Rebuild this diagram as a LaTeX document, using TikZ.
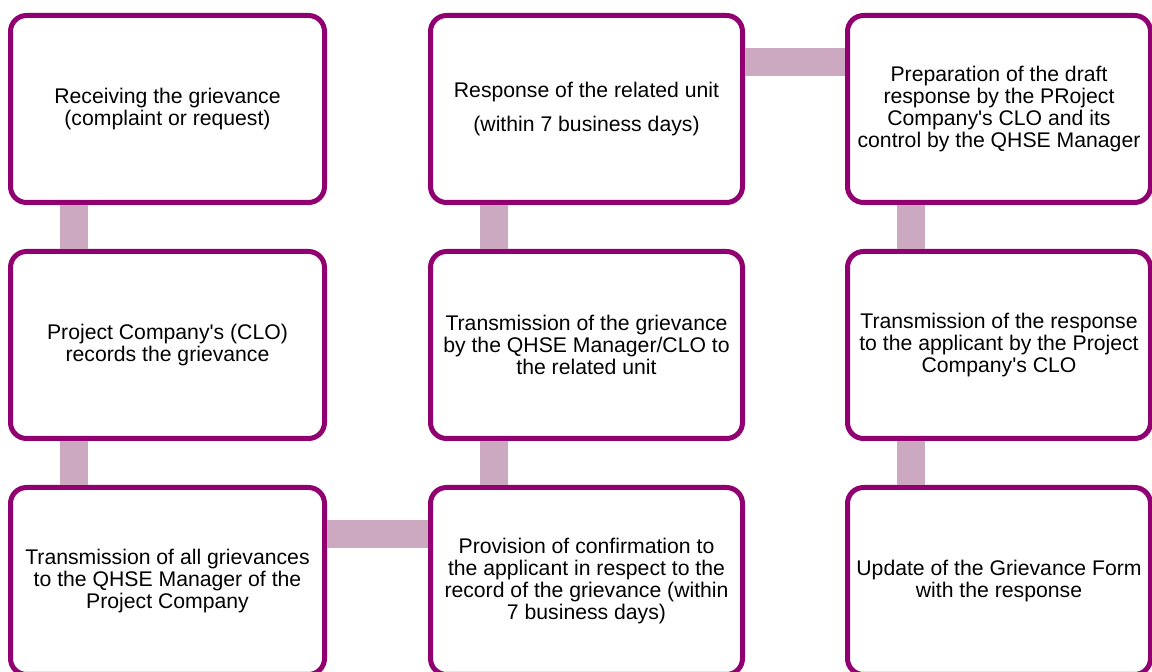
\documentclass[tikz,border=0pt]{standalone}
\usepackage{fontspec}
\setmainfont{Liberation Sans}
\usetikzlibrary{positioning,calc}
\definecolor{Ciruela}{RGB}{144,0,112}
\definecolor{CiruelaPalido}{RGB}{205,168,193}
\tikzset{
  stepbox/.style={draw=Ciruela, line width=2.5pt, rounded corners=8pt, fill=white,
    align=center, minimum width=#1, minimum height=93.5pt, inner sep=3pt,
    font=\fontsize{10.6pt}{11pt}\selectfont},
  stepbox/.default=157pt,
  % ---- barras de union entre pasos ----
  linkbar/.style={draw=CiruelaPalido, line width=14pt},
}
\newcommand{\apos}{\textquotesingle}
\begin{document}
\begin{tikzpicture}
    \useasboundingbox (0,0) rectangle (576pt,-336pt);
    \node[stepbox, anchor=north west] (recv) at (4pt,-6.5pt) {Receiving the grievance \\ (complaint or request)};
    \node[stepbox, below=22pt of recv] (record) {Project Company\apos s (CLO) \\ records the grievance};
    \node[stepbox, below=22pt of record] (send) {Transmission of all grievances \\ to the QHSE Manager of the \\ Project Company};
    \node[stepbox=156pt, right=50.5pt of send] (confirm) {Provision of confirmation to \\ the applicant in respect to the \\ record of the grievance (within \\ 7 business days)};
    \node[stepbox=156pt, above=22pt of confirm] (transmit) {Transmission of the grievance \\ by the QHSE Manager/CLO to \\ the related unit};
    \node[stepbox=156pt, above=22pt of transmit] (respond) {Response of the related unit \\[6pt] (within 7 business days)};
    \node[stepbox=151.5pt, right=50pt of respond] (draft) {Preparation of the draft \\ response by the PRoject \\ Company\apos s CLO and its \\ control by the QHSE Manager};
    \node[stepbox=151.5pt, below=22pt of draft] (reply) {Transmission of the response \\ to the applicant by the Project \\ Company\apos s CLO};
    \node[stepbox=151.5pt, below=22pt of reply] (update) {Update of the Grievance Form \\ with the response};
    \draw[linkbar] ([xshift=33pt]recv.south west) -- ([xshift=33pt]recv.south west |- record.north);
    \draw[linkbar] ([xshift=33pt]record.south west) -- ([xshift=33pt]record.south west |- send.north);
    \draw[linkbar] ([yshift=-24.5pt]send.north east) -- ([yshift=-24.5pt]send.north east -| confirm.west);
    \draw[linkbar] ([xshift=33pt]confirm.north west) -- ([xshift=33pt]confirm.north west |- transmit.south);
    \draw[linkbar] ([xshift=33pt]transmit.north west) -- ([xshift=33pt]transmit.north west |- respond.south);
    \draw[linkbar] ([yshift=-24.5pt]respond.north east) -- ([yshift=-24.5pt]respond.north east -| draft.west);
    \draw[linkbar] ([xshift=33pt]draft.south west) -- ([xshift=33pt]draft.south west |- reply.north);
    \draw[linkbar] ([xshift=33pt]reply.south west) -- ([xshift=33pt]reply.south west |- update.north);
  \end{tikzpicture}
\end{document}
